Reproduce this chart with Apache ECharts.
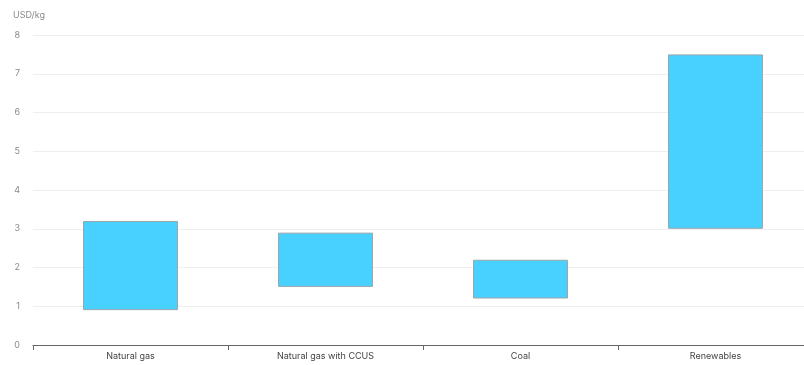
<!DOCTYPE html>
<html>
<head>
<meta charset="utf-8">
<style>
  html, body { margin: 0; padding: 0; background: #fff; overflow: hidden; }
  /* canvas is a little wider than the window so the last band runs past the edge */
  #chart { width: 813px; height: 365px; }
</style>
<script src="https://cdn.jsdelivr.net/npm/echarts@6/dist/echarts.min.js"></script>
</head>
<body>
<div id="chart"></div>
<script>
// Hydrogen production cost ranges by source (USD/kg)
const categories = ['Natural gas', 'Natural gas with CCUS', 'Coal', 'Renewables'];
const costLow = [0.9, 1.5, 1.2, 3.0];
const costHigh = [3.2, 2.9, 2.2, 7.5];
const yTicks = [0, 1, 2, 3, 4, 5, 6, 7, 8];

const chart = echarts.init(document.getElementById('chart'), null, { renderer: 'canvas' });

chart.setOption({
  animation: false,
  backgroundColor: '#ffffff',
  textStyle: { fontFamily: 'Inter, "Noto Sans", sans-serif' },
  title: {
    text: 'USD/kg',
    left: 8,
    top: 6,
    textStyle: { fontSize: 9, fontWeight: 'normal', color: '#8a8a8a' }
  },
  grid: { left: 33, right: 0, top: 35, bottom: 20, containLabel: false },
  xAxis: {
    type: 'category',
    data: categories,
    axisLine: { show: true, lineStyle: { color: '#666', width: 1 } },
    axisTick: { show: true, alignWithLabel: false, length: 5, lineStyle: { color: '#666' } },
    axisLabel: { fontSize: 9, color: '#444', margin: 7 },
    splitLine: { show: false }
  },
  yAxis: {
    type: 'value',
    min: yTicks[0],
    max: yTicks[yTicks.length - 1],
    interval: 1,
    axisLine: { show: false },
    axisTick: { show: false },
    axisLabel: { fontSize: 9, color: '#8a8a8a', margin: 13 },
    splitLine: { show: true, lineStyle: { color: '#efefef', width: 1 } }
  },
  series: [
    {
      name: 'base',
      type: 'bar',
      stack: 'range',
      barWidth: '48.7%',
      silent: true,
      itemStyle: { color: 'transparent' },
      data: costLow
    },
    {
      name: 'range',
      type: 'bar',
      stack: 'range',
      barWidth: '48.7%',
      itemStyle: { color: '#48d1ff', borderColor: '#9aa5aa', borderWidth: 1 },
      data: costHigh.map((h, i) => +(h - costLow[i]).toFixed(2))
    }
  ]
});
</script>
</body>
</html>
